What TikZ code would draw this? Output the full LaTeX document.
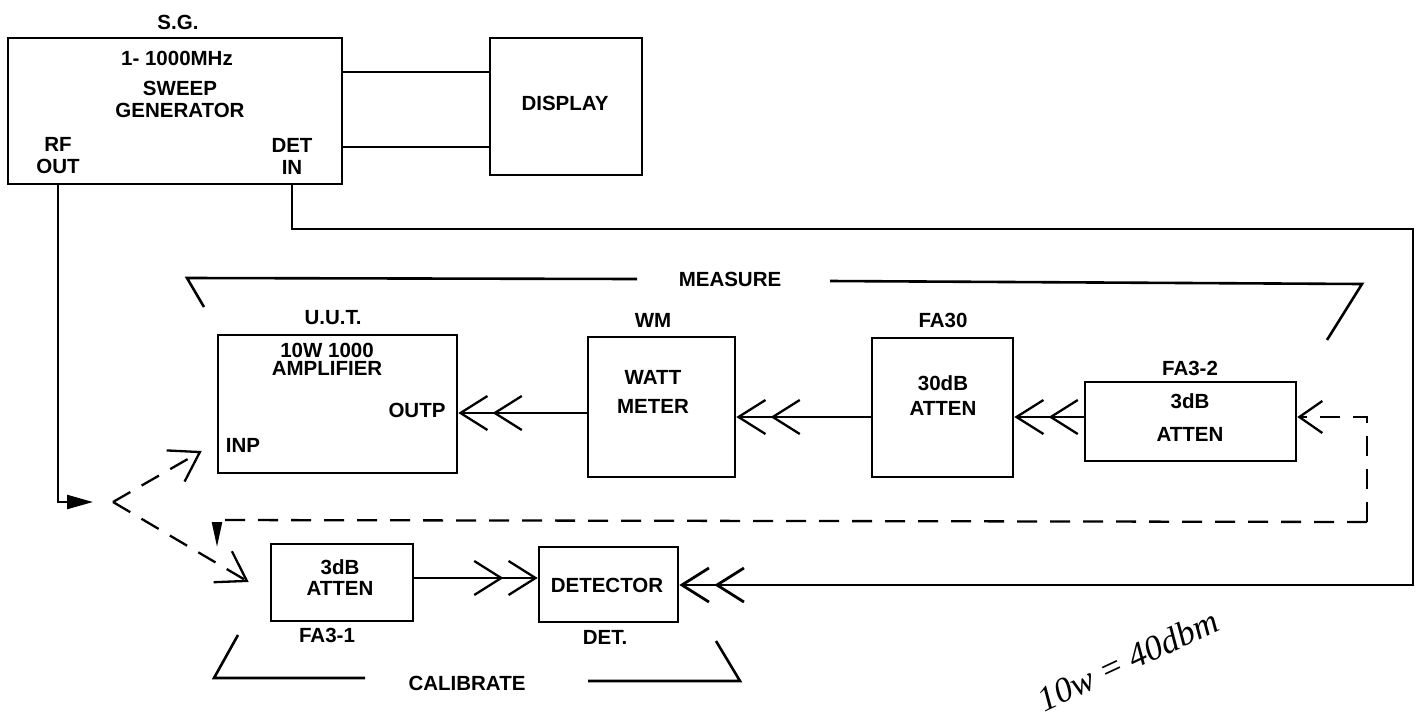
\documentclass[tikz,border=0pt]{standalone}
\usepackage{fontspec}
\setmainfont{Liberation Sans}
\newfontfamily\handfont{Liberation Serif}
\usetikzlibrary{arrows.meta,calc}
\begin{document}
\begin{tikzpicture}[x=1pt,y=-1pt,
  box/.style={draw,line width=2.6pt,inner sep=0pt},
  lbl/.style={inner sep=0pt,align=center,font=\bfseries\fontsize{20.5}{22}\selectfont},
  conn/.style={line width=2.3pt},
  brk/.style={line width=2.6pt,line join=miter},
  dsh/.style={line width=2.3pt,dash pattern=on 20pt off 13pt},
  chev/.style={-{Straight Barb[length=27pt,width=34pt,sep=4pt]Straight Barb[length=27pt,width=34pt]}},
  chevone/.style={-{Straight Barb[length=23pt,width=32pt]}},
  barb/.style={-{Straight Barb[length=28pt,width=36pt]}},
  fill arrow/.style={-{Triangle[length=26pt,width=14pt]}},
  down arrow/.style={-{Triangle[length=25pt,width=10pt]}}]
\useasboundingbox (0,0) rectangle (1423,723);

% boxes
\node[box,minimum width=334pt,minimum height=146pt] (sg) at (175,111) {};
\node[box,minimum width=152pt,minimum height=137pt] (disp) at (566,106.5) {};
\node[box,minimum width=239pt,minimum height=138pt] (uut) at (337.5,404) {};
\node[box,minimum width=147pt,minimum height=140pt] (wm) at (661.5,407) {};
\node[box,minimum width=141pt,minimum height=139pt] (fa30) at (942.5,407.5) {};
\node[box,minimum width=211pt,minimum height=79pt] (fa32) at (1190.5,421.5) {};
\node[box,minimum width=142pt,minimum height=77pt] (fa31) at (342,582.5) {};
\node[box,minimum width=139pt,minimum height=75pt] (det) at (608.5,584.5) {};

% labels
\node[lbl] (tsg) at (178,22) {S.G.};
\node[lbl] (tfreq) at (177,58) {1- 1000MHz};
\node[lbl] (tsweep) at (180,99) {SWEEP\\GENERATOR};
\node[lbl] (trf) at (58,156) {RF\\OUT};
\node[lbl] (tdetin) at (292,156) {DET\\IN};
\node[lbl] (tdisp) at (565,103) {DISPLAY};
\node[lbl] (tuut) at (333,318) {U.U.T.};
\node[lbl,font=\bfseries\fontsize{20.5}{18}\selectfont] (tamp) at (327,359) {10W 1000\\AMPLIFIER};
\node[lbl] (toutp) at (417,410) {OUTP};
\node[lbl] (tinp) at (243,445) {INP};
\node[lbl] (twm) at (653,320) {WM};
\node[lbl,font=\bfseries\fontsize{20.5}{29}\selectfont] (twatt) at (653,392) {WATT\\METER};
\node[lbl] (tfa30) at (943,320) {FA30};
\node[lbl,font=\bfseries\fontsize{20.5}{25}\selectfont] (tatt30) at (943,396) {30dB\\ATTEN};
\node[lbl] (tfa32) at (1190,368) {FA3-2};
\node[lbl,font=\bfseries\fontsize{20.5}{33}\selectfont] (tatt32) at (1190,418) {3dB\\ATTEN};
\node[lbl,font=\bfseries\fontsize{20.5}{21}\selectfont] (tatt31) at (340,577.5) {3dB\\ATTEN};
\node[lbl] (tfa31) at (327,635) {FA3-1};
\node[lbl] (tdet) at (607,585) {DETECTOR};
\node[lbl] (tdetl) at (605,637) {DET.};
\node[lbl] (tmeas) at (730,279) {MEASURE};
\node[lbl] (tcal) at (467,683) {CALIBRATE};
\node[inner sep=0pt,rotate=25,font=\handfont\itshape\fontsize{35}{35}\selectfont] (note) at (1128,660) {10w = 40dbm};

% SG to display
\draw[conn] (sg.east |- 0,72) -- (disp.west |- 0,72);
\draw[conn] (sg.east |- 0,147) -- (disp.west |- 0,147);

% RF out
\coordinate (split) at (113,502);
\draw[conn,fill arrow] (sg.south -| 58,0) -- (58,502) -- (93,502);
\draw[dsh,barb] (split) -- ($(uut.west |- 0,451)+(-15,0)$);
\draw[dsh,barb] (split) -- ($(fa31.west |- 0,582)+(-21,0)$);

% DET IN loop
\draw[conn,line width=2.8pt,chev] (sg.south -| 292,0) -- (292,229) -- (1413,229) -- (1413,585) -- (det.east |- 0,585);

% measure chain
\draw[conn,chev] (wm.west |- 0,413) -- (uut.east |- 0,413);
\draw[conn,chev] (fa30.west |- 0,417) -- (wm.east |- 0,417);
\draw[conn,chev] (fa32.west |- 0,417) -- (fa30.east |- 0,417);
\draw[conn,chev] (fa31.east |- 0,578) -- (det.west |- 0,578);

% dashed alternative path
\draw[dsh,chevone] (1367,522) -- (1367,417) -- (fa32.east |- 0,417);
\draw[dsh,down arrow] (1367,522) -- (217,520) -- (217,547);

% brackets
\draw[brk] (204,307) -- (187,278) -- (637,279);
\draw[brk] (830,281) -- (1362,284) -- (1327,340);
\draw[brk] (238,635) -- (214,678) -- (365,678);
\draw[brk] (588,681) -- (740,681) -- (716,641);
\end{tikzpicture}
\end{document}
